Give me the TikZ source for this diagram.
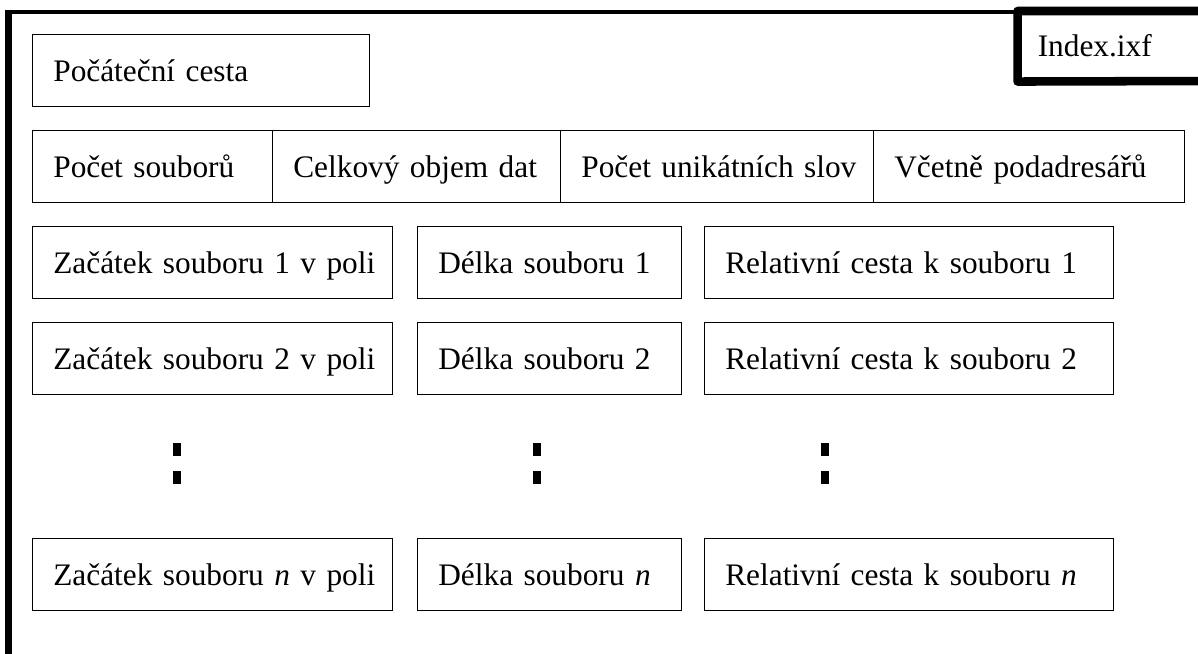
\documentclass[tikz,border=0pt]{standalone}
\usepackage{fontspec}
\setmainfont{Liberation Serif}[WordSpace=0.65]
\usetikzlibrary{shapes,positioning}

\tikzset{
  cell/.style={draw, line width=1pt, anchor=north west, minimum height=54pt,
    inner xsep=15.5pt, inner ysep=0pt, align=left, text height=19pt, text depth=3pt,
    font=\fontsize{23.5}{28}\selectfont,
    execute at begin node={\hbox\bgroup}, execute at end node={\egroup}},
  idxtext/.style={anchor=north west, minimum height=52.5pt, inner xsep=15pt,
    inner ysep=0pt, text height=19pt, text depth=3pt, font=\fontsize{23.5}{28}\selectfont},
  frameleft/.style={line width=5pt},
  frametop/.style={line width=3pt},
  idxline/.style={line width=6.4pt, line join=round},
}

\begin{document}
\begin{tikzpicture}[x=0.75pt,y=-0.75pt]
		\useasboundingbox (0,0) rectangle (1198,653);
		% outer frame
		\coordinate (frameBL) at (8.5,660);
		\coordinate (frameTL) at (8.5,10);
		\coordinate (frameL) at (5,12);
		\coordinate (frameR) at (1017,12);
		\draw[frameleft] (frameBL) -- (frameTL);
		\draw[frametop] (frameL) -- (frameR);
		% Index.ixf tab
		\node[idxtext] (idx) at (1017.5,11) {Index.ixf};
		\coordinate (idxTR) at (1210,11);
		\coordinate (idxBR) at (1210,81);
		\draw[idxline] (idxTR) -- (idx.north west) -- (idx.south west) -- (idxBR);
		% header
		\node[cell, text width=221.75pt] (start) at (32,34) {Počáteční cesta};
		\node[cell, text width=149pt] (nfiles) at (32,130) {Počet souborů};
		\node[cell, text width=185pt] (volume) at (272,130) {Celkový objem dat};
		\node[cell, text width=203.75pt] (words) at (560,130) {Počet unikátních slov};
		\node[cell, text width=202.25pt] (subdirs) at (873,130) {Včetně podadresářů};
		% file table
		\node[cell, text width=239pt] (begin1) at (32,226) {Začátek souboru 1 v poli};
		\node[cell, text width=167pt] (len1) at (417,226) {Délka souboru 1};
		\node[cell, text width=275.75pt] (path1) at (704,226) {Relativní cesta k souboru 1};
		\node[cell, text width=239pt] (begin2) at (32,322) {Začátek souboru 2 v poli};
		\node[cell, text width=167pt] (len2) at (417,322) {Délka souboru 2};
		\node[cell, text width=275.75pt] (path2) at (704,322) {Relativní cesta k souboru 2};
		% vertical dots
		\fill (173,443) rectangle (181,456);
		\fill (173,471) rectangle (181,484);
		\fill (533,443) rectangle (541,456);
		\fill (533,471) rectangle (541,484);
		\fill (821,443) rectangle (829,456);
		\fill (821,471) rectangle (829,484);
		\node[cell, text width=239pt] (beginn) at (32,538) {Začátek souboru \textit{n} v poli};
		\node[cell, text width=167pt] (lenn) at (417,538) {Délka souboru \textit{n}};
		\node[cell, text width=275.75pt] (pathn) at (704,538) {Relativní cesta k souboru \textit{n}};
\end{tikzpicture}
\end{document}
